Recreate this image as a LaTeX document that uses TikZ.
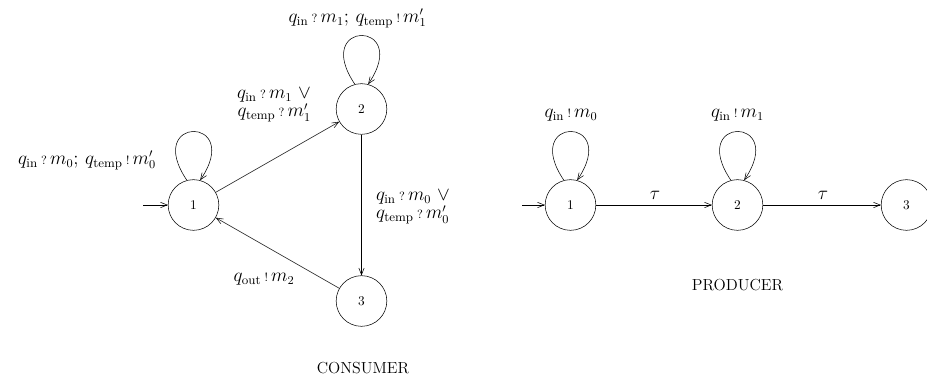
\documentclass[tikz,border=0pt]{standalone}
\usepackage{fontspec}
\usetikzlibrary{arrows.meta}
\newcommand{\inq}{\,{\scriptstyle ?}\,}
\newcommand{\outq}{\,{\scriptstyle !}\,}
\begin{document}
\begin{tikzpicture}[x=0.75pt,y=0.75pt,>={Straight Barb[length=5pt,width=4pt]},
  state/.style={draw,circle,minimum size=38pt,inner sep=0pt,font=\normalsize},
  lbl/.style={font=\fontsize{13.5}{17}\selectfont,inner sep=1pt},
  title/.style={font=\fontsize{12}{14}\selectfont\addfontfeature{LetterSpace=14}}]
  \useasboundingbox (0,0) rectangle (927,384);
  % CONSUMER
  \node[state] (c1) at (193.5,179) {1};
  \node[state] (c2) at (361.5,275) {2};
  \node[state] (c3) at (361.5,83) {3};
  \coordinate (c0) at (143,179);
  \draw[->] (c0) -- (c1);
  \draw[->] (c1.105) .. controls +(-44,65) and +(44,65) .. (c1.75);
  \draw[->] (c2.105) .. controls +(-44,65) and +(44,65) .. (c2.75);
  \draw[->] (c1) -- (c2);
  \draw[->] (c2) -- (c3);
  \draw[->] (c3) -- (c1);
  \node[lbl] (lc1) at (87,224) {$q_{\mathrm{in}}\inq m_0;\,q_{\mathrm{temp}}\outq m'_0$};
  \node[lbl] (lc2) at (357.5,366) {$q_{\mathrm{in}}\inq m_1;\,q_{\mathrm{temp}}\outq m'_1$};
  \node[lbl,align=right] (lc12) at (274,279) {$q_{\mathrm{in}}\inq m_1\ \vee$\\[-3pt]$q_{\mathrm{temp}}\inq m'_1$};
  \node[lbl,align=left] (lc23) at (413,177) {$q_{\mathrm{in}}\inq m_0\ \vee$\\[-3pt]$q_{\mathrm{temp}}\inq m'_0$};
  \node[lbl] (lc31) at (264,105) {$q_{\mathrm{out}}\outq m_2$};
  \node[title] (cons) at (363,16) {CONSUMER};
  % PRODUCER
  \node[state] (p1) at (570.5,179) {1};
  \node[state] (p2) at (737.5,179) {2};
  \node[state] (p3) at (906.5,179) {3};
  \coordinate (p0) at (522,179);
  \draw[->] (p0) -- (p1);
  \draw[->] (p1.105) .. controls +(-44,65) and +(44,65) .. (p1.75);
  \draw[->] (p2.105) .. controls +(-44,65) and +(44,65) .. (p2.75);
  \draw[->] (p1) -- (p2);
  \draw[->] (p2) -- (p3);
  \node[lbl] (lp1) at (571,269) {$q_{\mathrm{in}}\outq m_0$};
  \node[lbl] (lp2) at (737.5,269) {$q_{\mathrm{in}}\outq m_1$};
  \node[lbl] (t12) at (655,189) {$\tau$};
  \node[lbl] (t23) at (823,189) {$\tau$};
  \node[title] (prod) at (737.5,99) {PRODUCER};
\end{tikzpicture}
\end{document}
